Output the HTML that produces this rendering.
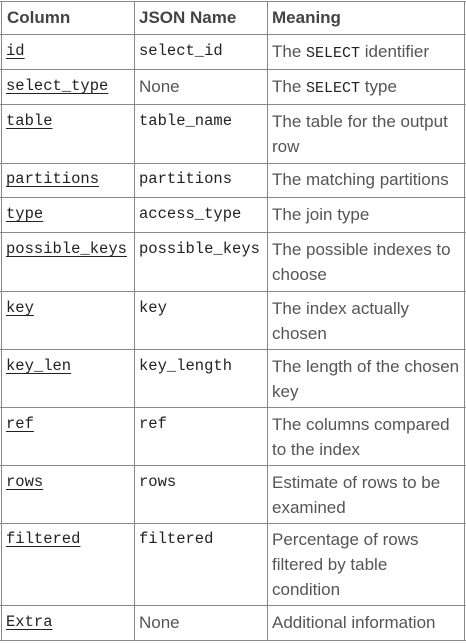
<!DOCTYPE html>
<html><head><meta charset="utf-8"><style>
*{margin:0;padding:0;box-sizing:border-box}
body{width:466px;height:644px;background:#fff;position:relative;overflow:hidden;font-family:"Liberation Sans",sans-serif;font-size:17px;color:#555}
.h{position:absolute;background:#888;height:1px}
.v{position:absolute;background:#888;width:1px}
.t{position:absolute;line-height:25px;white-space:nowrap}
.c{font-family:"Liberation Mono",monospace;font-size:15.5px;color:#222}
.u{text-decoration:underline;text-decoration-thickness:1px;text-underline-offset:3px}
.b{font-weight:bold;color:#444;font-size:17px}
.s{font-family:"Liberation Mono",monospace;font-size:15px;color:#222}
</style></head><body>
<div class="h" style="left:0;width:466px;top:1px"></div>
<div class="h" style="left:0;width:466px;top:34px"></div>
<div class="h" style="left:0;width:466px;top:69px"></div>
<div class="h" style="left:0;width:466px;top:104px"></div>
<div class="h" style="left:0;width:466px;top:163px"></div>
<div class="h" style="left:0;width:466px;top:197px"></div>
<div class="h" style="left:0;width:466px;top:232px"></div>
<div class="h" style="left:0;width:466px;top:291px"></div>
<div class="h" style="left:0;width:466px;top:349px"></div>
<div class="h" style="left:0;width:466px;top:407px"></div>
<div class="h" style="left:0;width:466px;top:465px"></div>
<div class="h" style="left:0;width:466px;top:523px"></div>
<div class="h" style="left:0;width:466px;top:605px"></div>
<div class="h" style="left:0;width:466px;top:640px"></div>
<div class="v" style="left:1px;top:1px;height:640px"></div>
<div class="v" style="left:134px;top:1px;height:640px"></div>
<div class="v" style="left:267px;top:1px;height:640px"></div>
<div class="v" style="left:464px;top:1px;height:640px"></div>

<div class="t b" style="left:7px;top:5px">Column</div>
<div class="t b" style="left:139px;top:5px">JSON Name</div>
<div class="t b" style="left:272px;top:5px">Meaning</div>

<div class="t c u" style="left:6px;top:39px">id</div>
<div class="t c" style="left:139px;top:39px">select_id</div>
<div class="t" style="left:272px;top:39px">The <span class="s">SELECT</span> identifier</div>

<div class="t c u" style="left:6px;top:74px">select_type</div>
<div class="t" style="left:139px;top:74px">None</div>
<div class="t" style="left:272px;top:74px">The <span class="s">SELECT</span> type</div>

<div class="t c u" style="left:6px;top:109px">table</div>
<div class="t c" style="left:139px;top:109px">table_name</div>
<div class="t" style="left:272px;top:109px">The table for the output<br>row</div>

<div class="t c u" style="left:6px;top:167px">partitions</div>
<div class="t c" style="left:139px;top:167px">partitions</div>
<div class="t" style="left:272px;top:167px">The matching partitions</div>

<div class="t c u" style="left:6px;top:202px">type</div>
<div class="t c" style="left:139px;top:202px">access_type</div>
<div class="t" style="left:272px;top:202px">The join type</div>

<div class="t c u" style="left:6px;top:237px">possible_keys</div>
<div class="t c" style="left:139px;top:237px">possible_keys</div>
<div class="t" style="left:272px;top:237px">The possible indexes to<br>choose</div>

<div class="t c u" style="left:6px;top:296px">key</div>
<div class="t c" style="left:139px;top:296px">key</div>
<div class="t" style="left:272px;top:296px">The index actually<br>chosen</div>

<div class="t c u" style="left:6px;top:354px">key_len</div>
<div class="t c" style="left:139px;top:354px">key_length</div>
<div class="t" style="left:272px;top:354px">The length of the chosen<br>key</div>

<div class="t c u" style="left:6px;top:412px">ref</div>
<div class="t c" style="left:139px;top:412px">ref</div>
<div class="t" style="left:272px;top:412px">The columns compared<br>to the index</div>

<div class="t c u" style="left:6px;top:470px">rows</div>
<div class="t c" style="left:139px;top:470px">rows</div>
<div class="t" style="left:272px;top:470px">Estimate of rows to be<br>examined</div>

<div class="t c u" style="left:6px;top:527px">filtered</div>
<div class="t c" style="left:139px;top:527px">filtered</div>
<div class="t" style="left:272px;top:527px">Percentage of rows<br>filtered by table<br>condition</div>

<div class="t c u" style="left:6px;top:610px">Extra</div>
<div class="t" style="left:139px;top:610px">None</div>
<div class="t" style="left:272px;top:610px">Additional information</div>
</body></html>
